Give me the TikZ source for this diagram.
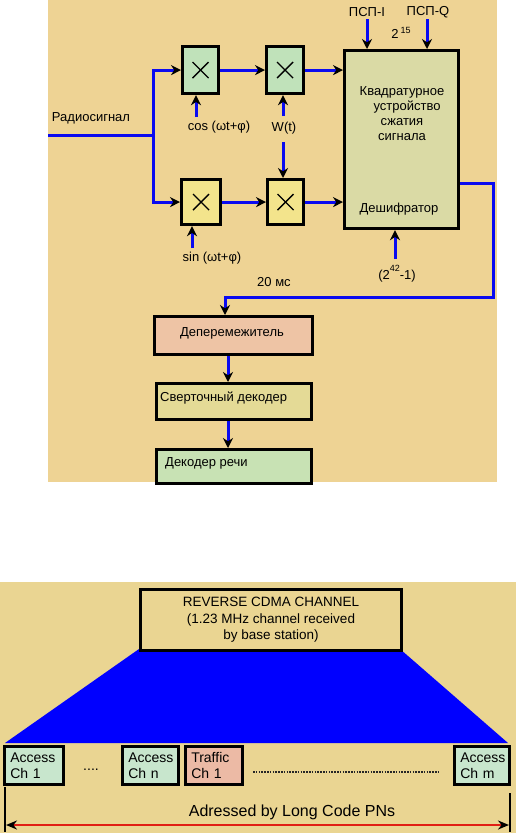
\documentclass[tikz,border=0pt]{standalone}
\usepackage{fontspec}
\setmainfont{Liberation Sans}
\usetikzlibrary{arrows.meta}
\definecolor{bgtop}{RGB}{238,211,148}
\definecolor{bgbot}{RGB}{234,213,146}
\definecolor{mgreen}{RGB}{192,226,186}
\definecolor{myellow}{RGB}{243,228,140}
\definecolor{bigfill}{RGB}{218,218,165}
\definecolor{salmon}{RGB}{238,196,165}
\definecolor{khaki}{RGB}{228,218,150}
\definecolor{lgreen}{RGB}{200,226,180}
\definecolor{chgreen}{RGB}{200,230,205}
\definecolor{traffic}{RGB}{236,186,165}
\definecolor{sigblue}{RGB}{10,10,240}
\definecolor{dimred}{RGB}{225,30,20}
\begin{document}
\begin{tikzpicture}[x=1pt,y=-1pt,
  box/.style={draw=black,line width=3.2pt,inner sep=0pt,anchor=north west},
  mult/.style={box},
  cross/.style={draw=black,line width=1.4pt},
  sig/.style={draw=sigblue,line width=3pt},
  arr/.style={sig,-{Stealth[black,length=10pt,width=10pt]}},
  lbl/.style={font=\fontsize{13}{15}\selectfont,inner sep=0pt},
  chbox/.style={box,line width=2.5pt,minimum height=38pt,inner xsep=6pt,align=left,
    font=\fontsize{14}{16}\selectfont,text width=#1},
  ]
\fill[white] (0,0) rectangle (516,833);
\useasboundingbox (0,0) rectangle (516,833);
% ---------------- top panel ----------------
\fill[bgtop] (48,0) rectangle (497,482);
\node[mult,fill=mgreen,minimum width=36pt,minimum height=47pt] (m1) at (181,45) {};
\node[mult,fill=mgreen,minimum width=37pt,minimum height=47pt] (m2) at (265,45) {};
\node[mult,fill=myellow,minimum width=39pt,minimum height=45pt] (m3) at (180,178) {};
\node[mult,fill=myellow,minimum width=36pt,minimum height=45pt] (m4) at (266,178) {};
\foreach \m in {m1,m2,m3,m4}{
  \draw[cross] (\m.center) +(-8,-8) -- +(8,8);
  \draw[cross] (\m.center) +(-8,8) -- +(8,-8);
}
\node[box,fill=bigfill,minimum width=114pt,minimum height=178pt] (big) at (343,49) {};
\node[lbl,align=center] (bigt) at (402,114) {Квадратурное\\\hspace*{10pt}устройство\\сжатия\\сигнала};
\node[lbl] (desh) at (399,209) {Дешифратор};
% input
\node[lbl] (rs) at (91,118) {Радиосигнал};
\coordinate (rin) at (48,135);
\coordinate (spl) at (153,135);
\draw[sig] (rin) -- (spl);
\draw[arr] (spl) |- (m1.west);
\draw[arr] (spl) |- (m3.west);
% cos, W(t), sin
\node[lbl] (cos) at (219,127) {cos (ωt+φ)};
\coordinate (cosa) at (196,117);
\draw[arr] (cosa) -- (cosa |- m1.south);
\node[lbl] (w) at (284,128) {W(t)};
\coordinate (wa) at (283,116);
\coordinate (wb) at (283,142);
\draw[arr] (wa) -- (wa |- m2.south);
\draw[arr] (wb) -- (wb |- m4.north);
\node[lbl] (sin) at (212,258) {sin (ωt+φ)};
\coordinate (sina) at (192,248);
\draw[arr] (sina) -- (sina |- m3.south);
% chain
\draw[arr] (m1.east) -- (m2.west);
\draw[arr] (m2.east) -- (m2.east -| big.west);
\draw[arr] (m3.east) -- (m4.west);
\draw[arr] (m4.east) -- (m4.east -| big.west);
% PSP
\node[lbl] (pi) at (367,12) {ПСП-I};
\node[lbl] (pq) at (428,12) {ПСП-Q};
\coordinate (pia) at (367,19);
\coordinate (pqa) at (427,19);
\draw[arr] (pia) -- (pia |- big.north);
\draw[arr] (pqa) -- (pqa |- big.north);
\node[lbl] (p15) at (401,33) {2\,\raisebox{5pt}{\fontsize{9}{9}\selectfont 15}};
% 2^42-1
\node[lbl] (p42) at (397,274) {(2\raisebox{8pt}{\fontsize{9}{9}\selectfont 42}-1)};
\coordinate (p42a) at (395,259);
\draw[arr] (p42a) -- (p42a |- big.south);
% lower chain
\node[box,fill=salmon,minimum width=158pt,minimum height=38pt] (dep) at (153,315) {};
\node[lbl] (dept) at (232,333) {Деперемежитель};
\node[box,fill=khaki,minimum width=155pt,minimum height=36pt] (svr) at (155,382) {};
\node[lbl,anchor=west] (svrt) at (160,398) {Сверточный декодер};
\node[box,fill=lgreen,minimum width=155pt,minimum height=34pt] (dec) at (155,448) {};
\node[lbl,anchor=west] (dect) at (165,463) {Декодер речи};
\coordinate (o1) at (493,183);
\coordinate (o2) at (493,297);
\coordinate (o3) at (225,297);
\draw[arr] (big.east |- o1) -- (o1) -- (o2) -- (o3) -- (o3 |- dep.north);
\node[lbl] (ms) at (274,282) {20 мс};
\coordinate (ax) at (228,0);
\draw[arr] (ax |- dep.south) -- (ax |- svr.north);
\draw[arr] (ax |- svr.south) -- (ax |- dec.north);
% ---------------- bottom panel ----------------
\fill[bgbot] (0,582) rectangle (516,833);
\fill[blue] (139,649) -- (400,649) -- (508,743) -- (5,743) -- cycle;
\node[box,line width=3pt,fill=bgbot,minimum width=261pt,minimum height=61pt,align=center,
  font=\fontsize{13.5}{16.5}\selectfont] (title) at (139,588)
  {REVERSE CDMA CHANNEL\\(1.23 MHz channel received\\by base station)};
\node[chbox=47pt,fill=chgreen] (c1) at (3,745) {Access\\Ch 1};
\node[font=\fontsize{14}{16}\selectfont,inner sep=0pt] (d1) at (91,770) {....};
\node[chbox=44pt,fill=chgreen] (cn) at (121,745) {Access\\Ch n};
\node[chbox=45pt,fill=traffic] (t1) at (184,745) {Traffic\\Ch 1};
\coordinate (dsa) at (253,772);
\coordinate (dsb) at (440,772);
\draw[line width=1.8pt,black!85,dash pattern=on 1.5pt off 1.3pt] (dsa) -- (dsb);
\node[chbox=43pt,fill=chgreen] (cm) at (453,745) {Access\\Ch m};
% dimension
\coordinate (vl1) at (5,787);
\coordinate (vl2) at (5,832);
\coordinate (vr1) at (510,793);
\coordinate (vr2) at (510,832);
\draw[line width=2pt] (vl1) -- (vl2);
\draw[line width=2pt] (vr1) -- (vr2);
\coordinate (al) at (6,825);
\coordinate (ar) at (509,825);
\draw[dimred,line width=2pt,{Stealth[black,length=11pt,width=9pt]}-{Stealth[black,length=11pt,width=9pt]}] (al) -- (ar);
\node[font=\fontsize{16}{18}\selectfont,inner sep=0pt] (adr) at (292,812) {Adressed by Long Code PNs};
\end{tikzpicture}
\end{document}
